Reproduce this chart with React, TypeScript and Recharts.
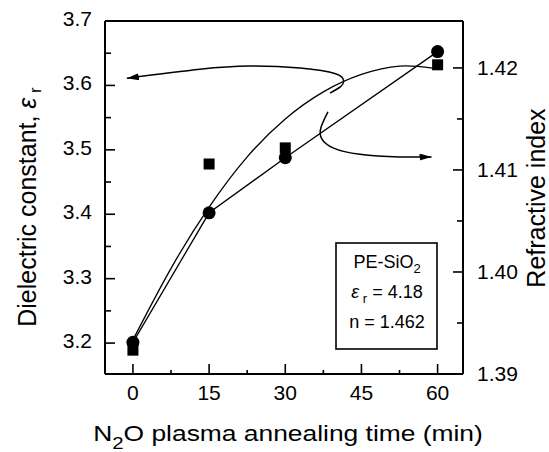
import { ComposedChart, Line, Scatter, XAxis, YAxis, ReferenceLine } from 'recharts'

// measured points: annealing time (min)
const times = [0, 15, 30, 60]
// squares: dielectric constant (left axis)
const dielectric = [3.189, 3.478, 3.503, 3.632]
// circles: refractive index (right axis)
const refractive = [1.3931, 1.4058, 1.4112, 1.4216]

// smooth trend curve, left-axis units
const trendTime = [0, 7.5, 15, 22.5, 30, 37.5, 45, 52.5, 59]
const trendEps = [3.205, 3.316, 3.411, 3.489, 3.548, 3.59, 3.617, 3.63, 3.627]

// annotation arrows (tail -> head), left-axis units
const arrowToLeftTime = [38.8, 40.9, 41.5, 39.9, 32.9, 23.0, 13.2, -1.2]
const arrowToLeftEps = [3.588, 3.598, 3.607, 3.618, 3.627, 3.63, 3.625, 3.611]
const arrowToRightTime = [38.4, 37.0, 37.2, 39.4, 44.7, 52.5, 58.8]
const arrowToRightEps = [3.559, 3.534, 3.517, 3.503, 3.493, 3.489, 3.489]

// ticks
const xMajor = [0, 15, 30, 45, 60]
const xMinor = [7.5, 22.5, 37.5, 52.5]
const epsMajor = [3.2, 3.3, 3.4, 3.5, 3.6, 3.7]
const epsMinor = [3.25, 3.35, 3.45, 3.55, 3.65]
const nMajor = [1.39, 1.4, 1.41, 1.42]
const nMinor = [1.395, 1.405, 1.415]

const FONT = '"Liberation Sans", Arial, Helvetica, sans-serif'
const byNum = (a: number, b: number) => a - b

const squares = times.map((t, i) => ({ t, eps: dielectric[i] }))
const circles = times.map((t, i) => ({ t, n: refractive[i] }))
const trend = trendTime.map((t, i) => ({ t, eps: trendEps[i] }))
const arrowLeft = arrowToLeftTime.map((t, i) => ({ t, eps: arrowToLeftEps[i] }))
const arrowRight = arrowToRightTime.map((t, i) => ({ t, eps: arrowToRightEps[i] }))

function XTick({ x, y, payload }: any) {
  const major = xMajor.includes(payload.value)
  return (
    <g>
      <line x1={x} x2={x} y1={y} y2={y - (major ? 10 : 4)} stroke="#000" strokeWidth={1.6} />
      {major && (
        <text x={x} y={y + 26} textAnchor="middle" fontSize={21} fontFamily={FONT} fill="#000">
          {payload.value}
        </text>
      )}
    </g>
  )
}

function EpsTick({ x, y, payload }: any) {
  const major = epsMajor.includes(payload.value)
  return (
    <g>
      <line x1={x} x2={x + (major ? 10 : 6)} y1={y} y2={y} stroke="#000" strokeWidth={1.6} />
      {major && (
        <text x={x - 13} y={y + 5} textAnchor="end" fontSize={21} fontFamily={FONT} fill="#000">
          {payload.value.toFixed(1)}
        </text>
      )}
    </g>
  )
}

function NTick({ x, y, payload }: any) {
  const major = nMajor.includes(payload.value)
  return (
    <g>
      <line x1={x} x2={x - (major ? 10 : 6)} y1={y} y2={y} stroke="#000" strokeWidth={1.6} />
      {major && (
        <text x={x + 14} y={y + 7} textAnchor="start" fontSize={21} fontFamily={FONT} fill="#000">
          {payload.value.toFixed(2)}
        </text>
      )}
    </g>
  )
}

const squareShape = (p: any) => (
  <rect x={p.cx - 5.5} y={p.cy - 5.5} width={11} height={11} fill="#000" />
)

export default function App() {
  return (
    <div style={{ position: 'relative', width: 549, height: 452, background: '#fff' }}>
      <style>{'body{margin:0}'}</style>
      <ComposedChart width={549} height={452} margin={{ top: 21, right: 0, bottom: 0, left: 0 }}>
        <defs>
          <marker
            id="arrowHead"
            viewBox="0 0 12 7"
            refX={12}
            refY={3.5}
            markerWidth={12}
            markerHeight={7}
            markerUnits="userSpaceOnUse"
            orient="auto"
          >
            <path d="M0,0 L12,3.5 L0,7 z" fill="#000" />
          </marker>
        </defs>
        <XAxis
          type="number"
          dataKey="t"
          domain={[-5.5, 65]}
          allowDataOverflow
          ticks={[...xMajor, ...xMinor].sort(byNum)}
          interval={0}
          height={78}
          tickSize={0}
          tickMargin={0}
          tickLine={false}
          tick={<XTick />}
          axisLine={{ stroke: '#000', strokeWidth: 2 }}
        />
        <YAxis
          yAxisId="left"
          type="number"
          domain={[3.152, 3.7]}
          allowDataOverflow
          ticks={[...epsMajor, ...epsMinor].sort(byNum)}
          interval={0}
          width={105}
          tickSize={0}
          tickMargin={0}
          tickLine={false}
          tick={<EpsTick />}
          axisLine={{ stroke: '#000', strokeWidth: 2 }}
        />
        <YAxis
          yAxisId="right"
          orientation="right"
          type="number"
          domain={[1.39, 1.4246]}
          allowDataOverflow
          ticks={[...nMajor, ...nMinor].sort(byNum)}
          interval={0}
          width={86}
          tickSize={0}
          tickMargin={0}
          tickLine={false}
          tick={<NTick />}
          axisLine={{ stroke: '#000', strokeWidth: 2 }}
        />
        <ReferenceLine yAxisId="left" y={3.7} stroke="#000" strokeWidth={2} />

        <Line
          yAxisId="left"
          data={trend}
          dataKey="eps"
          type="natural"
          stroke="#000"
          strokeWidth={1.3}
          dot={false}
          isAnimationActive={false}
        />
        <Line
          yAxisId="right"
          data={circles}
          dataKey="n"
          type="linear"
          stroke="#000"
          strokeWidth={1.3}
          dot={{ r: 6.5, fill: '#000', stroke: '#000', strokeWidth: 0 }}
          isAnimationActive={false}
        />
        <Scatter
          yAxisId="left"
          data={squares}
          dataKey="eps"
          shape={squareShape}
          isAnimationActive={false}
        />
        <Line
          yAxisId="left"
          data={arrowLeft}
          dataKey="eps"
          type="natural"
          stroke="#000"
          strokeWidth={1.5}
          dot={false}
          markerEnd="url(#arrowHead)"
          isAnimationActive={false}
        />
        <Line
          yAxisId="left"
          data={arrowRight}
          dataKey="eps"
          type="natural"
          stroke="#000"
          strokeWidth={1.5}
          dot={false}
          markerEnd="url(#arrowHead)"
          isAnimationActive={false}
        />
      </ComposedChart>

      {/* axis titles and the reference-film inset */}
      <svg
        width={549}
        height={452}
        style={{ position: 'absolute', left: 0, top: 0, pointerEvents: 'none' }}
        fontFamily={FONT}
        fill="#000"
      >
        <text transform="translate(36,207) rotate(-90)" textAnchor="middle" fontSize={25}>
          Dielectric constant, <tspan fontStyle="italic">ε</tspan>
          <tspan fontSize={17} dy={5}> r</tspan>
        </text>
        <text transform="translate(545,198) rotate(-90)" textAnchor="middle" fontSize={25}>
          Refractive index
        </text>
        <text transform="translate(288,441) scale(1.2,1)" textAnchor="middle" fontSize={22}>
          N<tspan fontSize={17} dy={8}>2</tspan>
          <tspan dy={-8}>O plasma annealing time (min)</tspan>
        </text>

        <rect x={336} y={243} width={101} height={106} fill="#fff" stroke="#000" strokeWidth={1.6} />
        <text x={387} y={268} textAnchor="middle" fontSize={18}>
          PE-SiO<tspan fontSize={13} dy={5}>2</tspan>
        </text>
        <text x={387} y={298} textAnchor="middle" fontSize={18}>
          <tspan fontStyle="italic">ε</tspan>
          <tspan fontSize={13} dy={5}> r</tspan>
          <tspan dy={-5}> = 4.18</tspan>
        </text>
        <text x={387} y={328} textAnchor="middle" fontSize={18}>
          n = 1.462
        </text>
      </svg>
    </div>
  )
}
